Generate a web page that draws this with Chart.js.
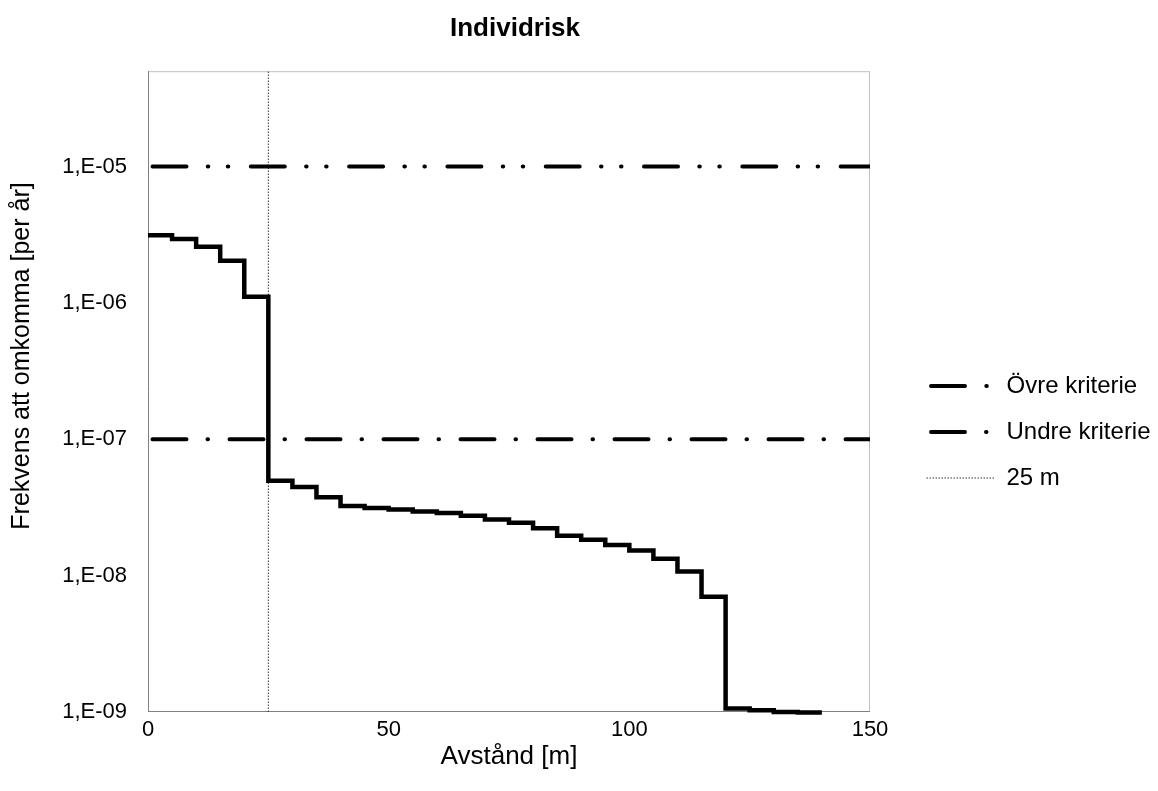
<!DOCTYPE html>
<html>
<head>
<meta charset="utf-8">
<script src="https://cdn.jsdelivr.net/npm/chart.js@4.4.1/dist/chart.umd.min.js"></script>
<style>
html, body { margin: 0; padding: 0; background: #ffffff; }
#wrap { width: 1158px; height: 791px; }
</style>
</head>
<body>
<div id="wrap"><canvas id="c" width="1158" height="791"></canvas></div>
<script>
// ---- data ----
const chartTitle = 'Individrisk';
const xAxisTitle = 'Avstånd [m]';
const yAxisTitle = 'Frekvens att omkomma [per år]';

const distances = [0, 5, 10, 15, 20, 25, 30, 35, 40, 45, 50, 55, 60, 65, 70,
                   75, 80, 85, 90, 95, 100, 105, 110, 115, 120, 125, 130, 135, 140];
const individualRisk = [3.13e-6, 2.94e-6, 2.58e-6, 2.04e-6, 1.11e-6,
                        4.96e-8, 4.46e-8, 3.75e-8, 3.24e-8, 3.13e-8,
                        3.06e-8, 2.95e-8, 2.88e-8, 2.75e-8, 2.58e-8,
                        2.44e-8, 2.23e-8, 1.96e-8, 1.83e-8, 1.68e-8,
                        1.53e-8, 1.33e-8, 1.07e-8, 7.0e-9, 1.06e-9,
                        1.03e-9, 1.0e-9, 0.99e-9, 0.99e-9];

const upperLabel = 'Övre kriterie';
const upperValue = 1e-5;
const lowerLabel = 'Undre kriterie';
const lowerValue = 1e-7;
const markerLabel = '25 m';
const markerDistance = 25;

const xRange = [0, 150];
const yRange = [1e-9, 5e-5];
const xTickValues = [0, 50, 100, 150];
const xTickLabels = ['0', '50', '100', '150'];
const yTickValues = [1e-9, 1e-8, 1e-7, 1e-6, 1e-5];
const yTickLabels = ['1,E-09', '1,E-08', '1,E-07', '1,E-06', '1,E-05'];

// ---- chart ----
const FONT = "'Liberation Sans', Arial, Helvetica, sans-serif";
Chart.defaults.font.family = FONT;
Chart.defaults.color = '#000';

const riskPoints = distances.map((d, i) => ({ x: d, y: individualRisk[i] }));

const tunePlugin = {
  id: 'tune',
  afterInit(chart) {
    const lg = chart.legend;
    const fit = lg.fit.bind(lg);
    lg.fit = function () { fit(); this.width = 288; };
  },
  afterLayout(chart) {
    const lg = chart.legend;
    lg.left = 904.5; lg.right = lg.left + 288;
    lg.top = 36.5; lg.bottom = 791 + 36.5;
    const tb = chart.titleBlock;
    if (tb) { tb.left += 6; tb.right += 6; }
  },
  beforeDatasetsDraw(chart) {
    const { ctx, chartArea: a } = chart;
    ctx.save();
    ctx.lineWidth = 1;
    ctx.strokeStyle = '#c0c0c0';
    ctx.beginPath();
    ctx.moveTo(a.left, a.top + 0.5); ctx.lineTo(a.right, a.top + 0.5);
    ctx.moveTo(a.right - 0.5, a.top); ctx.lineTo(a.right - 0.5, a.bottom);
    ctx.stroke();
    ctx.strokeStyle = '#808080';
    ctx.beginPath();
    ctx.moveTo(a.left + 0.5, a.top); ctx.lineTo(a.left + 0.5, a.bottom);
    ctx.moveTo(a.left, a.bottom - 0.5); ctx.lineTo(a.right, a.bottom - 0.5);
    ctx.stroke();
    ctx.restore();
  },
  afterDraw(chart) {
    const { ctx } = chart;
    ctx.save();
    ctx.translate(22, 356);
    ctx.rotate(-Math.PI / 2);
    ctx.font = '25px ' + FONT;
    ctx.fillStyle = '#000';
    ctx.textAlign = 'center';
    ctx.textBaseline = 'middle';
    ctx.fillText(yAxisTitle, 0, 0);
    ctx.restore();
  }
};

new Chart(document.getElementById('c'), {
  type: 'line',
  data: {
    datasets: [
      {
        label: chartTitle,
        data: riskPoints,
        borderColor: '#000',
        borderWidth: 4.5,
        stepped: true,
        borderJoinStyle: 'miter',
        borderCapStyle: 'butt',
        pointRadius: 0,
        fill: false,
        clip: false
      },
      {
        label: upperLabel,
        data: [{ x: xRange[0], y: upperValue }, { x: xRange[1], y: upperValue }],
        borderColor: '#000',
        borderWidth: 4,
        borderDash: [34, 21.3, 0.5, 19.5, 0.5, 22.5],
        borderDashOffset: -4.5,
        borderCapStyle: 'round',
        pointRadius: 0,
        fill: false
      },
      {
        label: lowerLabel,
        data: [{ x: xRange[0], y: lowerValue }, { x: xRange[1], y: lowerValue }],
        borderColor: '#000',
        borderWidth: 4,
        borderDash: [34, 21, 0.5, 21.5],
        borderDashOffset: -4.5,
        borderCapStyle: 'round',
        pointRadius: 0,
        fill: false
      },
      {
        label: markerLabel,
        data: [{ x: markerDistance, y: yRange[0] }, { x: markerDistance, y: yRange[1] }],
        borderColor: '#333',
        borderWidth: 1,
        borderDash: [1.5, 1.5],
        borderCapStyle: 'butt',
        pointRadius: 0,
        fill: false
      }
    ]
  },
  options: {
    responsive: false,
    animation: false,
    devicePixelRatio: 1,
    layout: { padding: 0 },
    scales: {
      x: {
        type: 'linear',
        min: xRange[0],
        max: xRange[1],
        afterBuildTicks: (s) => { s.ticks = xTickValues.map(v => ({ value: v })); },
        afterFit: (s) => { s.height = 79; },
        ticks: {
          callback: (v) => xTickLabels[xTickValues.indexOf(v)],
          font: { size: 22 },
          color: '#000',
          padding: 5,
          maxRotation: 0,
          autoSkip: false
        },
        grid: { display: false, drawTicks: false },
        border: { display: false },
        title: {
          display: true,
          text: xAxisTitle,
          font: { size: 26 },
          color: '#000',
          padding: { top: 0, bottom: 19 }
        }
      },
      y: {
        type: 'logarithmic',
        min: yRange[0],
        max: yRange[1],
        afterBuildTicks: (s) => { s.ticks = yTickValues.map(v => ({ value: v })); },
        afterFit: (s) => { s.width = 148; },
        ticks: {
          callback: (v) => yTickLabels[yTickValues.indexOf(v)],
          font: { size: 22 },
          color: '#000',
          padding: 21,
          autoSkip: false
        },
        grid: { display: false, drawTicks: false },
        border: { display: false },
        title: { display: false }
      }
    },
    plugins: {
      title: {
        display: true,
        text: chartTitle,
        fullSize: false,
        font: { size: 26, weight: 'bold' },
        color: '#000',
        padding: { top: 13, bottom: 27 }
      },
      legend: {
        position: 'right',
        align: 'center',
        labels: {
          usePointStyle: true,
          pointStyle: 'line',
          pointStyleWidth: 68,
          font: { size: 24 },
          color: '#000',
          padding: 22,
          generateLabels(chart) {
            const items = Chart.defaults.plugins.legend.labels.generateLabels(chart);
            return items.filter(it => it.datasetIndex > 0).map(it => {
              const ds = chart.data.datasets[it.datasetIndex];
              return Object.assign(it, {
                pointStyle: 'line',
                rotation: 180,
                lineDash: ds.borderDash || [],
                lineDashOffset: ds.borderDashOffset || 0,
                lineCap: ds.borderCapStyle || 'butt',
                lineWidth: ds.borderWidth,
                strokeStyle: ds.borderColor,
                fillStyle: ds.borderColor
              });
            });
          }
        }
      },
      tooltip: { enabled: false }
    }
  },
  plugins: [tunePlugin]
});
</script>
</body>
</html>
